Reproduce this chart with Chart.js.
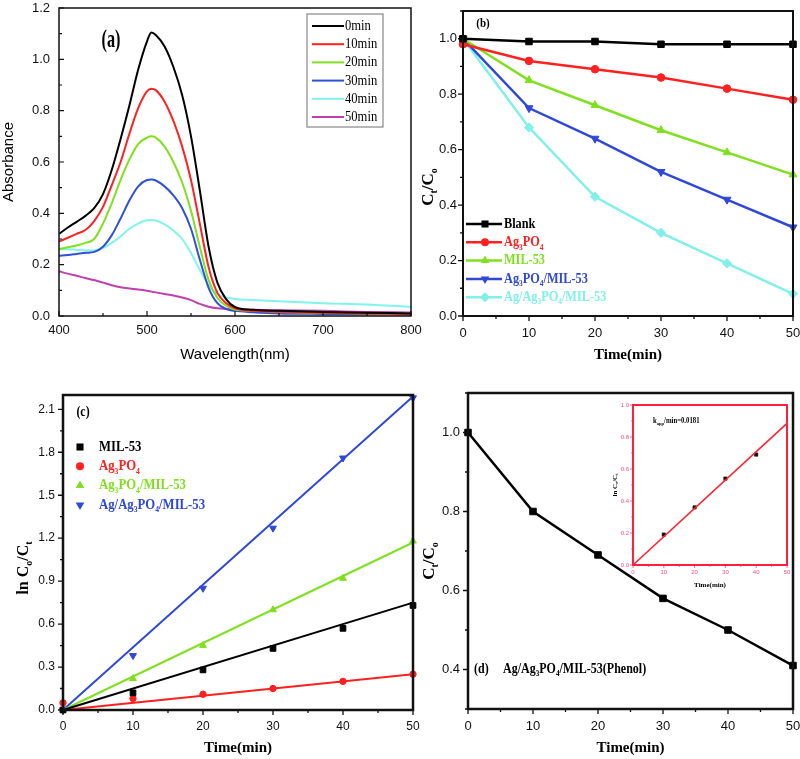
<!DOCTYPE html>
<html>
<head>
<meta charset="utf-8">
<script src="https://cdn.jsdelivr.net/npm/chart.js@4.4.1/dist/chart.umd.min.js"></script>
<style>
html, body { margin: 0; padding: 0; background: #fff; }
#fig { position: relative; width: 800px; height: 759px; overflow: hidden; background: #fff; }
#fig canvas { position: absolute; }
</style>
</head>
<body>
<div id="fig">
  <canvas id="chartA" width="430" height="370" style="left:0px;top:0px"></canvas>
  <canvas id="chartB" width="385" height="370" style="left:415px;top:0px"></canvas>
  <canvas id="chartC" width="430" height="389" style="left:0px;top:370px"></canvas>
  <canvas id="chartD" width="385" height="389" style="left:415px;top:370px"></canvas>
  <canvas id="chartInset" width="210" height="205" style="left:590px;top:395px"></canvas>
</div>
<script>
// ---- (a) absorbance spectra
const WAVE = [400, 410, 420, 430, 440, 450, 460, 470, 480, 490, 500, 505, 510, 520, 530, 540, 550, 560, 570, 580, 590, 600, 620, 650, 700, 750, 800];
const ABS_0MIN  = [0.32, 0.345, 0.367, 0.39, 0.42, 0.475, 0.57, 0.69, 0.82, 0.96, 1.07, 1.105, 1.095, 1.05, 0.97, 0.86, 0.70, 0.49, 0.27, 0.13, 0.065, 0.035, 0.024, 0.02, 0.016, 0.013, 0.01];
const ABS_10MIN = [0.29, 0.305, 0.32, 0.335, 0.37, 0.425, 0.51, 0.60, 0.71, 0.81, 0.875, 0.885, 0.88, 0.835, 0.76, 0.66, 0.53, 0.36, 0.19, 0.09, 0.05, 0.03, 0.02, 0.017, 0.013, 0.01, 0.008];
const ABS_20MIN = [0.26, 0.268, 0.275, 0.285, 0.30, 0.36, 0.44, 0.53, 0.61, 0.67, 0.695, 0.70, 0.695, 0.66, 0.60, 0.52, 0.41, 0.27, 0.14, 0.07, 0.04, 0.025, 0.02, 0.016, 0.012, 0.01, 0.008];
const ABS_30MIN = [0.235, 0.238, 0.242, 0.246, 0.25, 0.27, 0.315, 0.38, 0.45, 0.505, 0.53, 0.532, 0.528, 0.505, 0.47, 0.42, 0.34, 0.22, 0.11, 0.05, 0.027, 0.02, 0.015, 0.01, 0.008, 0.007, 0.006];
const ABS_40MIN = [0.26, 0.26, 0.258, 0.256, 0.255, 0.265, 0.285, 0.31, 0.34, 0.36, 0.373, 0.374, 0.372, 0.357, 0.333, 0.30, 0.245, 0.18, 0.12, 0.085, 0.072, 0.066, 0.062, 0.057, 0.05, 0.045, 0.035];
const ABS_50MIN = [0.174, 0.165, 0.157, 0.148, 0.14, 0.13, 0.12, 0.112, 0.107, 0.103, 0.098, 0.095, 0.092, 0.086, 0.08, 0.072, 0.062, 0.047, 0.036, 0.03, 0.028, 0.026, 0.024, 0.022, 0.02, 0.016, 0.014];
const A_LABELS = ['0min', '10min', '20min', '30min', '40min', '50min'];

// ---- (b) C/C0 vs time
const TIME = [0, 10, 20, 30, 40, 50];
const B_BLANK = [1.0, 0.99, 0.99, 0.98, 0.98, 0.98];
const B_AG3PO4 = [0.98, 0.92, 0.89, 0.86, 0.82, 0.78];
const B_MIL53 = [1.0, 0.85, 0.76, 0.67, 0.59, 0.51];
const B_AG3PO4_MIL = [1.0, 0.75, 0.64, 0.52, 0.42, 0.32];
const B_AG_AG3PO4_MIL = [1.0, 0.68, 0.43, 0.30, 0.19, 0.08];
const B_LABELS = ['Blank', 'Ag_3PO_4', 'MIL-53', 'Ag_3PO_4/MIL-53', 'Ag/Ag_3PO_4/MIL-53'];

// ---- (c) ln(C0/Ct) vs time with linear fits
const C_MIL53 = [0, 0.12, 0.28, 0.43, 0.57, 0.73];
const C_AG3PO4 = [0.05, 0.08, 0.11, 0.15, 0.20, 0.25];
const C_AG3PO4_MIL = [0, 0.22, 0.45, 0.70, 0.92, 1.18];
const C_AG_AG3PO4_MIL = [0, 0.38, 0.85, 1.27, 1.76, 2.18];
const FIT_TIME = [0, 50];
const C_FIT_MIL53 = [0, 0.75];
const C_FIT_AG3PO4 = [0, 0.25];
const C_FIT_AG3PO4_MIL = [0, 1.17];
const C_FIT_AG_AG3PO4_MIL = [0, 2.19];
const C_LABELS = ['MIL-53', 'Ag_3PO_4', 'Ag_3PO_4/MIL-53', 'Ag/Ag_3PO_4/MIL-53'];

// ---- (d) phenol + inset
const D_PHENOL = [1.0, 0.80, 0.69, 0.58, 0.50, 0.41];
const INSET_TIME = [10, 20, 30, 40];
const INSET_LN = [0.19, 0.36, 0.54, 0.69];
const INSET_FIT = [0, 0.885];

// styles
const SERIF = '"Liberation Serif", "Times New Roman", serif';
const SANS = '"Liberation Sans", Arial, sans-serif';
const A_COLORS = ['#000000', '#ff2020', '#80e020', '#3050d8', '#80f4ec', '#c040b0'];
const BLACK = '#000000', RED = '#ff2020', GREEN = '#80e020', BLUE = '#3048d8', CYAN = '#80f0e8';

const pts = (xs, ys) => xs.map((x, i) => ({ x: x, y: ys[i] }));

function fitY(w) { return s => { s.width = w; s.paddingTop = s.paddingBottom = s.paddingLeft = s.paddingRight = 0; }; }
function fitX(h) { return s => { s.height = h; s.paddingTop = s.paddingBottom = s.paddingLeft = s.paddingRight = 0; }; }

function scalesFor(o) {
  const tf = { family: o.tickFamily || SANS, size: o.tickSize };
  return {
    x: {
      type: 'linear', min: o.x[0], max: o.x[1], afterFit: fitX(o.xH),
      grid: { display: false, drawTicks: false }, border: { display: false },
      ticks: { stepSize: o.x[2], includeBounds: false, padding: o.xPad, font: tf, color: o.tickColor || '#111',
               maxRotation: 0, autoSkip: false, callback: v => v.toFixed(o.x[3]) },
      title: o.xTitle ? { display: true, text: o.xTitle, font: o.xTitleFont, color: '#000', padding: { top: 0, bottom: o.xTitlePad } } : { display: false }
    },
    y: {
      type: 'linear', min: o.y[0], max: o.y[1], afterFit: fitY(o.yW),
      grid: { display: false, drawTicks: false }, border: { display: false },
      ticks: { stepSize: o.y[2], includeBounds: false, padding: o.yPad, font: tf, color: o.tickColor || '#111',
               autoSkip: false, callback: o.yCallback || (v => v.toFixed(o.y[3])) },
      title: o.yTitle ? { display: true, text: o.yTitle, font: o.yTitleFont, color: '#000', padding: { top: o.yTitlePad || 0, bottom: 0 } } : { display: false }
    }
  };
}

// frame + major/minor ticks
function framePlugin(spec) {
  return {
    id: 'frame',
    afterDatasetsDraw(chart) {
      const { ctx, chartArea: a } = chart;
      const sx = chart.scales.x, sy = chart.scales.y;
      const d = spec.inward ? -1 : 1;
      ctx.save();
      ctx.strokeStyle = spec.tickColor || spec.color;
      ctx.lineWidth = spec.tickWidth || 1.2;
      const isMajor = (v, m) => Math.abs(v / m - Math.round(v / m)) < 1e-6;
      ctx.beginPath();
      for (let k = Math.ceil(sx.min / spec.xMinor - 1e-6); k * spec.xMinor <= sx.max + 1e-9; k++) {
        const v = k * spec.xMinor, p = sx.getPixelForValue(v);
        const len = isMajor(v, spec.xMajor) ? spec.major : spec.minor;
        ctx.moveTo(p, a.bottom); ctx.lineTo(p, a.bottom + d * len);
      }
      for (let k = Math.ceil(sy.min / spec.yMinor - 1e-6); k * spec.yMinor <= sy.max + 1e-9; k++) {
        const v = k * spec.yMinor, p = sy.getPixelForValue(v);
        const len = isMajor(v, spec.yMajor) ? spec.major : spec.minor;
        ctx.moveTo(a.left, p); ctx.lineTo(a.left - d * len, p);
      }
      ctx.stroke();
      ctx.strokeStyle = spec.color;
      ctx.lineWidth = spec.width;
      ctx.strokeRect(a.left, a.top, a.right - a.left, a.bottom - a.top);
      ctx.restore();
    }
  };
}

// text with simple subscripts: "Ag_3PO_4", "k_{app}"
function parseRich(str) {
  const out = []; let buf = '', i = 0;
  while (i < str.length) {
    if (str[i] === '_') {
      if (buf) { out.push({ t: buf, sub: false }); buf = ''; }
      if (str[i + 1] === '{') { const j = str.indexOf('}', i); out.push({ t: str.slice(i + 2, j), sub: true }); i = j + 1; }
      else { out.push({ t: str[i + 1], sub: true }); i += 2; }
    } else { buf += str[i]; i++; }
  }
  if (buf) out.push({ t: buf, sub: false });
  return out;
}

function drawRich(ctx, str, x, y, o) {
  const fam = o.family || SERIF, wt = o.bold ? 'bold ' : '';
  const main = wt + o.size + 'px ' + fam;
  const sub = wt + Math.max(4, Math.round(o.size * 0.6)) + 'px ' + fam;
  const parts = parseRich(str);
  let w = 0;
  parts.forEach(p => { ctx.font = p.sub ? sub : main; p.w = ctx.measureText(p.t).width; w += p.w; });
  ctx.save();
  ctx.translate(x, y);
  if (o.rot) ctx.rotate(o.rot);
  ctx.scale(o.sx || 1, 1);
  ctx.fillStyle = o.color || '#000';
  ctx.textBaseline = 'middle';
  ctx.textAlign = 'left';
  let cx = o.align === 'center' ? -w / 2 : (o.align === 'right' ? -w : 0);
  parts.forEach(p => { ctx.font = p.sub ? sub : main; ctx.fillText(p.t, cx, p.sub ? o.size * 0.33 : 0); cx += p.w; });
  ctx.restore();
}

function drawMarker(ctx, style, x, y, r, color) {
  ctx.save();
  ctx.fillStyle = color;
  ctx.beginPath();
  if (style === 'rect') { const s = r * Math.SQRT1_2; ctx.rect(x - s, y - s, 2 * s, 2 * s); }
  else if (style === 'circle') { ctx.arc(x, y, r, 0, Math.PI * 2); }
  else if (style === 'rectRot') { ctx.moveTo(x, y - r); ctx.lineTo(x + r, y); ctx.lineTo(x, y + r); ctx.lineTo(x - r, y); ctx.closePath(); }
  else {
    const dir = style === 'triangleDown' ? -1 : 1;
    ctx.moveTo(x, y - dir * r); ctx.lineTo(x + r * 0.866, y + dir * r * 0.5); ctx.lineTo(x - r * 0.866, y + dir * r * 0.5); ctx.closePath();
  }
  ctx.fill();
  ctx.restore();
}

// draws in page coordinates
function textPlugin(offX, offY, fn) {
  return {
    id: 'texts',
    afterDraw(chart) {
      const ctx = chart.ctx;
      ctx.save();
      ctx.translate(-offX, -offY);
      fn(ctx);
      ctx.restore();
    }
  };
}

function baseOptions(padTop, padRight, scales) {
  return {
    responsive: false, animation: false,
    layout: { autoPadding: false, padding: { left: 0, top: padTop, right: padRight, bottom: 0 } },
    plugins: { legend: { display: false }, tooltip: { enabled: false } },
    scales: scales
  };
}

// ================= (a)
const SPECTRA = [ABS_0MIN, ABS_10MIN, ABS_20MIN, ABS_30MIN, ABS_40MIN, ABS_50MIN];
new Chart(document.getElementById('chartA'), {
  type: 'scatter',
  data: {
    datasets: SPECTRA.map((vals, i) => ({
      label: A_LABELS[i], data: pts(WAVE, vals), showLine: true,
      borderColor: A_COLORS[i], borderWidth: 2, pointRadius: 0,
      cubicInterpolationMode: 'monotone', tension: 0.4
    }))
  },
  options: baseOptions(8, 19, scalesFor({
    x: [400, 800, 100, 0], y: [0, 1.2, 0.2, 1], xH: 54, yW: 59,
    tickSize: 13, xPad: 7, yPad: 9,
    xTitle: 'Wavelength(nm)', xTitleFont: { family: SANS, size: 15 }, xTitlePad: 6,
    yTitle: 'Absorbance', yTitleFont: { family: SANS, size: 15 }, yTitlePad: 0
  })),
  plugins: [
    framePlugin({ color: '#111', width: 1.5, inward: true, xMinor: 50, xMajor: 100, yMinor: 0.1, yMajor: 0.2, major: 5, minor: 3, tickWidth: 1.2 }),
    textPlugin(0, 0, ctx => {
      drawRich(ctx, '(a)', 111, 41, { size: 25, bold: true, sx: 0.65, align: 'center' });
      ctx.strokeStyle = '#888'; ctx.lineWidth = 1.2;
      ctx.strokeRect(307, 14, 76, 113);
      A_LABELS.forEach((lab, i) => {
        const y = 26 + i * 18.2;
        ctx.strokeStyle = A_COLORS[i]; ctx.lineWidth = 2;
        ctx.beginPath(); ctx.moveTo(312, y); ctx.lineTo(344, y); ctx.stroke();
        drawRich(ctx, lab, 345, y, { size: 15, sx: 0.84 });
      });
    })
  ]
});

// ================= (b)
const B_SERIES = [B_BLANK, B_AG3PO4, B_MIL53, B_AG3PO4_MIL, B_AG_AG3PO4_MIL];
const B_COLORS = [BLACK, RED, GREEN, BLUE, CYAN];
const B_STYLES = ['rect', 'circle', 'triangle', 'triangleDown', 'rectRot'];
new Chart(document.getElementById('chartB'), {
  type: 'scatter',
  data: {
    datasets: B_SERIES.map((vals, i) => ({
      label: B_LABELS[i], data: pts(TIME, vals), showLine: true, clip: false,
      borderColor: B_COLORS[i], backgroundColor: B_COLORS[i], borderWidth: 2.5,
      pointStyle: B_STYLES[i] === 'triangleDown' ? 'triangle' : B_STYLES[i],
      pointRotation: B_STYLES[i] === 'triangleDown' ? 180 : 0,
      pointRadius: B_STYLES[i] === 'circle' ? 3.8 : 4.6, pointBorderWidth: 1
    }))
  },
  options: baseOptions(11, 7, scalesFor({
    x: [0, 50, 10, 0], y: [0, 1.1, 0.2, 1], xH: 54, yW: 48,
    tickSize: 13, xPad: 10, yPad: 6,
    xTitle: 'Time(min)', xTitleFont: { family: SERIF, size: 15, weight: 'bold' }, xTitlePad: 6
  })),
  plugins: [
    framePlugin({ color: '#111', width: 2, inward: false, xMinor: 5, xMajor: 10, yMinor: 0.1, yMajor: 0.2, major: 5, minor: 3, tickWidth: 1.3 }),
    textPlugin(415, 0, ctx => {
      drawRich(ctx, '(b)', 483, 24, { size: 13, bold: true, sx: 0.85, align: 'center' });
      drawRich(ctx, 'C_t/C_o', 429, 187, { size: 17, bold: true, rot: -Math.PI / 2, align: 'center' });
      B_LABELS.forEach((lab, i) => {
        const y = 224 + i * 18.3;
        ctx.strokeStyle = B_COLORS[i]; ctx.lineWidth = 2.5;
        ctx.beginPath(); ctx.moveTo(466, y); ctx.lineTo(502, y); ctx.stroke();
        drawMarker(ctx, B_STYLES[i], 485, y, B_STYLES[i] === 'circle' ? 4 : 5, B_COLORS[i]);
        drawRich(ctx, lab, 504, y, { size: 15, bold: true, sx: 0.82, color: B_COLORS[i] });
      });
    })
  ]
});

// ================= (c)
const C_POINTS = [C_MIL53, C_AG3PO4, C_AG3PO4_MIL, C_AG_AG3PO4_MIL];
const C_FITS = [C_FIT_MIL53, C_FIT_AG3PO4, C_FIT_AG3PO4_MIL, C_FIT_AG_AG3PO4_MIL];
const C_COLORS = [BLACK, RED, GREEN, BLUE];
const C_STYLES = ['rect', 'circle', 'triangle', 'triangleDown'];
new Chart(document.getElementById('chartC'), {
  type: 'scatter',
  data: {
    datasets: C_FITS.map((vals, i) => ({
      label: C_LABELS[i] + ' fit', data: pts(FIT_TIME, vals), showLine: true, clip: false,
      borderColor: C_COLORS[i], borderWidth: 2, pointRadius: 0
    })).concat(C_POINTS.map((vals, i) => ({
      label: C_LABELS[i], data: pts(TIME, vals), showLine: false, clip: false,
      backgroundColor: C_COLORS[i], borderColor: C_COLORS[i],
      pointStyle: C_STYLES[i] === 'triangleDown' ? 'triangle' : C_STYLES[i],
      pointRotation: C_STYLES[i] === 'triangleDown' ? 180 : 0,
      pointRadius: C_STYLES[i] === 'circle' ? 3.2 : 4, pointBorderWidth: 1
    })))
  },
  options: baseOptions(25, 17, scalesFor({
    x: [0, 50, 10, 0], y: [0, 2.2, 0.3, 1], xH: 49, yW: 63,
    tickSize: 12, xPad: 9, yPad: 8,
    xTitle: 'Time(min)', xTitleFont: { family: SERIF, size: 15, weight: 'bold' }, xTitlePad: 1.5
  })),
  plugins: [
    framePlugin({ color: '#111', width: 2.5, inward: false, xMinor: 5, xMajor: 10, yMinor: 0.15, yMajor: 0.3, major: 5, minor: 3, tickWidth: 1.3 }),
    textPlugin(0, 370, ctx => {
      drawRich(ctx, '(c)', 83, 412, { size: 14, bold: true, sx: 0.85, align: 'center' });
      drawRich(ctx, 'ln C_o/C_t', 24, 568, { size: 16, bold: true, rot: -Math.PI / 2, align: 'center' });
      C_LABELS.forEach((lab, i) => {
        const y = 447 + i * 19.3;
        drawMarker(ctx, C_STYLES[i], 80, y, C_STYLES[i] === 'circle' ? 4 : 5, C_COLORS[i]);
        drawRich(ctx, lab, 99, y, { size: 15, bold: true, sx: 0.85, color: C_COLORS[i] });
      });
    })
  ]
});

// ================= (d)
new Chart(document.getElementById('chartD'), {
  type: 'scatter',
  data: {
    datasets: [{
      label: 'Ag/Ag3PO4/MIL-53(Phenol)', data: pts(TIME, D_PHENOL), showLine: true, clip: false,
      borderColor: BLACK, backgroundColor: BLACK, borderWidth: 2.5,
      pointStyle: 'rect', pointRadius: 4.6, pointBorderWidth: 1
    }]
  },
  options: baseOptions(23, 7, scalesFor({
    x: [0, 50, 10, 0], y: [0.3, 1.1, 0.1, 1], xH: 50, yW: 53,
    tickSize: 13, xPad: 10, yPad: 8,
    yCallback: v => (Math.round(v * 10) % 2 === 0 ? v.toFixed(1) : ''),
    xTitle: 'Time(min)', xTitleFont: { family: SERIF, size: 15, weight: 'bold' }, xTitlePad: 1.5
  })),
  plugins: [
    framePlugin({ color: '#111', width: 2.5, inward: false, xMinor: 5, xMajor: 10, yMinor: 0.1, yMajor: 0.2, major: 5, minor: 3, tickWidth: 1.3 }),
    textPlugin(415, 370, ctx => {
      drawRich(ctx, 'C_t/C_o', 430, 561, { size: 17, bold: true, rot: -Math.PI / 2, align: 'center' });
      drawRich(ctx, '(d)', 474, 669, { size: 15, bold: true, sx: 0.8 });
      drawRich(ctx, 'Ag/Ag_3PO_4/MIL-53(Phenol)', 503, 669, { size: 15, bold: true, sx: 0.8 });
    })
  ]
});

// ================= inset of (d)
new Chart(document.getElementById('chartInset'), {
  type: 'scatter',
  data: {
    datasets: [{
      label: 'fit', data: pts(FIT_TIME, INSET_FIT), showLine: true, clip: false,
      borderColor: '#ff2030', borderWidth: 1.6, pointRadius: 0
    }, {
      label: 'ln C0/Ct', data: pts(INSET_TIME, INSET_LN), showLine: false, clip: false,
      backgroundColor: '#111', borderColor: '#111', pointStyle: 'rect', pointRadius: 2.4, pointBorderWidth: 0.5
    }]
  },
  options: baseOptions(10, 13, scalesFor({
    x: [0, 50, 10, 0], y: [0, 1.0, 0.2, 1], xH: 35, yW: 43,
    tickSize: 6, xPad: 4, yPad: 4, tickColor: '#ff4d88',
    xTitle: 'Time(min)', xTitleFont: { family: SERIF, size: 7, weight: 'bold' }, xTitlePad: 11
  })),
  plugins: [
    framePlugin({ color: '#ff2040', width: 2, inward: false, tickColor: '#ff6a9a', xMinor: 5, xMajor: 10, yMinor: 0.1, yMajor: 0.2, major: 3, minor: 2, tickWidth: 1 }),
    textPlugin(590, 395, ctx => {
      drawRich(ctx, 'ln C_o/C_t', 615, 485, { size: 7, bold: true, rot: -Math.PI / 2, align: 'center' });
      drawRich(ctx, 'k_{app}/min=0.0181', 653, 421, { size: 7.5, bold: true, sx: 0.9 });
    })
  ]
});
</script>
</body>
</html>
